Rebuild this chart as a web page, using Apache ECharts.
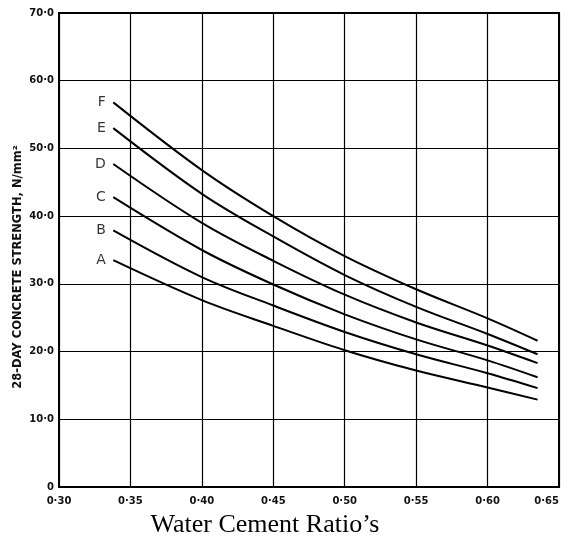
<!DOCTYPE html>
<html>
<head>
<meta charset="utf-8">
<script src="https://cdn.jsdelivr.net/npm/echarts@6/dist/echarts.min.js"></script>
<style>
html,body{margin:0;padding:0;background:#fff;}
#chart{width:568px;height:539px;}
</style>
</head>
<body>
<div id="chart"></div>
<script>
// Water-cement ratios at which the curves were read
const ratios = [0.338, 0.40, 0.45, 0.50, 0.55, 0.60, 0.635];
// 28-day strength (N/mm²) for each curve
const curveA = [33.5, 27.6, 23.8, 20.2, 17.2, 14.7, 12.9];
const curveB = [37.9, 31.0, 26.8, 22.9, 19.6, 16.8, 14.6];
const curveC = [42.8, 35.0, 29.9, 25.5, 21.8, 18.7, 16.2];
const curveD = [47.7, 39.0, 33.4, 28.4, 24.3, 20.9, 18.3];
const curveE = [53.0, 43.3, 37.0, 31.3, 26.6, 22.6, 19.6];
const curveF = [56.8, 46.8, 40.0, 34.1, 29.2, 24.9, 21.6];
const curveNames = ['A', 'B', 'C', 'D', 'E', 'F'];
const xTickLabels = ['0·30', '0·35', '0·40', '0·45', '0·50', '0·55', '0·60', '0·65'];
const yTickLabels = ['0', '10·0', '20·0', '30·0', '40·0', '50·0', '60·0', '70·0'];
const xTitle = 'Water Cement Ratio\u2019s';
const yTitle = '28-DAY CONCRETE STRENGTH, N/mm\u00B2';

const curves = [curveA, curveB, curveC, curveD, curveE, curveF];

const chart = echarts.init(document.getElementById('chart'), null, {renderer: 'canvas'});

const series = curves.map((vals, i) => ({
  type: 'line',
  name: curveNames[i],
  smooth: 0.35,
  symbol: 'none',
  silent: true,
  lineStyle: {color: '#000', width: 2},
  data: vals.map((v, j) => [ratios[j], v])
}));

// letters at the start of each curve
series.push({
  type: 'scatter',
  silent: true,
  symbolSize: 1,
  itemStyle: {color: 'rgba(0,0,0,0)'},
  data: curves.map((vals, i) => ({name: curveNames[i], value: [ratios[0], vals[0]]})),
  label: {
    show: true, position: 'left', distance: 7,
    formatter: p => p.name,
    fontFamily: 'DejaVu Sans', fontSize: 14, color: '#000'
  }
});

const labelFont = {fontFamily: 'DejaVu Sans', fontWeight: 'bold', fontSize: 10, color: '#111'};

chart.setOption({
  animation: false,
  backgroundColor: '#fff',
  grid: {left: 59, right: 9, top: 13, bottom: 52, containLabel: false, outerBoundsMode: 'none',
         show: true, borderColor: '#000', borderWidth: 2},
  xAxis: {
    type: 'value', min: 0.30, max: 0.65, interval: 0.05,
    axisLine: {show: true, lineStyle: {color: '#000', width: 2}},
    axisTick: {show: false},
    splitLine: {show: true, lineStyle: {color: '#000', width: 1.2}},
    axisLabel: Object.assign({
      margin: 9,
      alignMaxLabel: 'right',
      formatter: v => xTickLabels[Math.round((v - 0.30) / 0.05)]
    }, labelFont)
  },
  yAxis: {
    type: 'value', min: 0, max: 70, interval: 10,
    axisLine: {show: true, lineStyle: {color: '#000', width: 2}},
    axisTick: {show: false},
    splitLine: {show: true, lineStyle: {color: '#000', width: 1.2}},
    axisLabel: Object.assign({
      margin: 5,
      formatter: v => yTickLabels[Math.round(v / 10)]
    }, labelFont)
  },
  graphic: [
    {
      type: 'text', x: 18, y: 267, rotation: Math.PI / 2,
      style: {text: yTitle, fontFamily: 'DejaVu Sans', fontSize: 11.5, fontWeight: 'bold',
              fill: '#111', align: 'center', verticalAlign: 'middle'}
    },
    {
      type: 'text', x: 265, y: 525,
      style: {text: xTitle, fontFamily: 'Liberation Serif', fontSize: 26,
              fill: '#000', align: 'center', verticalAlign: 'middle'}
    }
  ],
  series: series
});
</script>
</body>
</html>
